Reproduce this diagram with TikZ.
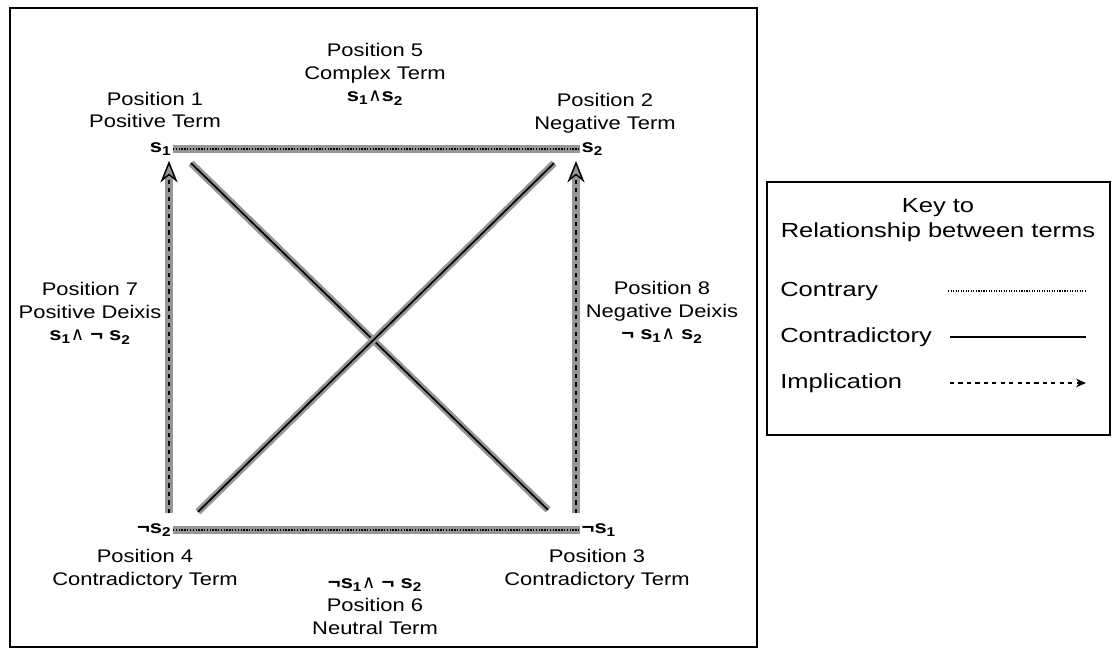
\documentclass[tikz,border=0pt]{standalone}
\usepackage{fontspec}
\setmainfont{Liberation Sans}[FakeStretch=1.2]
\newfontfamily\keyfont{Liberation Sans}[FakeStretch=1.25]
\newfontfamily\symfont{DejaVu Sans}
\usetikzlibrary{arrows.meta,positioning,calc}
\definecolor{halogray}{RGB}{150,150,150}

% terms of the square
\newcommand{\sv}[1]{\textbf{s}\textsubscript{\textbf{#1}}}
\newcommand{\conj}{{\symfont ∧}}
\newcommand{\nt}{{\bfseries ¬}}

\begin{document}
\begin{tikzpicture}[x=0.025cm,y=-0.025cm,
    term/.style={inner sep=1pt, font=\fontsize{13}{16}\selectfont},
    poslabel/.style={align=center, inner sep=0pt, font=\fontsize{13}{16.3}\selectfont},
    keytext/.style={inner sep=0pt, font=\keyfont\fontsize{14.5}{18}\selectfont},
    halo/.style={preaction={draw=halogray, solid, line width=5pt}},
    contrary/.style={halo, densely dotted, line width=1pt},
    contra/.style={halo, line width=1.2pt},
    implies/.style={halo, dashed, line width=1pt, -{Stealth[length=15pt,width=12pt,fill=halogray]}}]
            \useasboundingbox (0,0) rectangle (1113,648);

            % frames
            \draw[line width=1.2pt] (10,8) rectangle (757,647);
            \draw[line width=1.2pt] (767,182) rectangle (1110,435);

            % corners of the square
            \node[term, anchor=east] (s1) at (173,149) {\sv1};
            \node[term, anchor=west] (s2) at (580,149) {\sv2};
            \node[term, anchor=east] (ns2) at (173,530) {\nt\sv2};
            \node[term, anchor=west] (ns1) at (580,530) {\nt\sv1};

            % position labels
            \node[poslabel] (pos1) at (155,110) {Position 1\\Positive Term};
            \node[poslabel] (pos2) at (605,113) {Position 2\\Negative Term};
            \node[poslabel] (pos5) at (375,74) {Position 5\\Complex Term\\\sv1\conj\sv2};
            \node[poslabel] (pos7) at (90,313) {Position 7\\Positive Deixis\\\sv1\conj\ \nt\ \sv2};
            \node[poslabel] (pos8) at (662,312) {Position 8\\Negative Deixis\\\nt\ \sv1\conj\ \sv2};
            \node[poslabel] (pos4) at (145,569) {Position 4\\Contradictory Term};
            \node[poslabel] (pos3) at (597,569) {Position 3\\Contradictory Term};
            \node[poslabel] (pos6) at (375,606) {\nt\sv1\conj\ \nt\ \sv2\\Position 6\\Neutral Term};

            % contrary
            \draw[contrary] (s1.east) -- (s2.west);
            \draw[contrary] (ns2.east) -- (ns1.west);

            % contradictory
            \draw[contra] ($(s1.south east)+(18,6)$) -- ($(ns1.north west)+(-32,-12)$);
            \draw[contra] ($(s2.south west)+(-26,6)$) -- ($(ns2.north east)+(25,-10)$);

            % implication
            \draw[implies] ([xshift=-0.1cm,yshift=0.22cm]ns2.north east) -- ([xshift=-0.1cm,yshift=-0.1cm]s1.south east);
            \draw[implies] ([xshift=-0.1cm,yshift=0.22cm]ns1.north west) -- ([xshift=-0.1cm,yshift=-0.1cm]s2.south west);

            % key
            \node[keytext, align=center] (keytitle) at (938,220) {Key to\\Relationship between terms};
            \node[keytext, anchor=west] (kcontrary) at (780,291) {Contrary};
            \node[keytext, anchor=west] (kcontra) at (780,337) {Contradictory};
            \node[keytext, anchor=west] (kimplies) at (780,383) {Implication};
            \coordinate (kc1) at (948,291);
            \coordinate (kc2) at (1086,291);
            \coordinate (kd1) at (950,337);
            \coordinate (kd2) at (1086,337);
            \coordinate (ki1) at (950,383);
            \coordinate (ki2) at (1086,383);
            \draw[densely dotted, line width=0.8pt] (kc1) -- (kc2);
            \draw[line width=1.2pt] (kd1) -- (kd2);
            \draw[dashed, line width=1.2pt, -{Stealth[length=7pt,width=6pt]}] (ki1) -- (ki2);
        \end{tikzpicture}
\end{document}
